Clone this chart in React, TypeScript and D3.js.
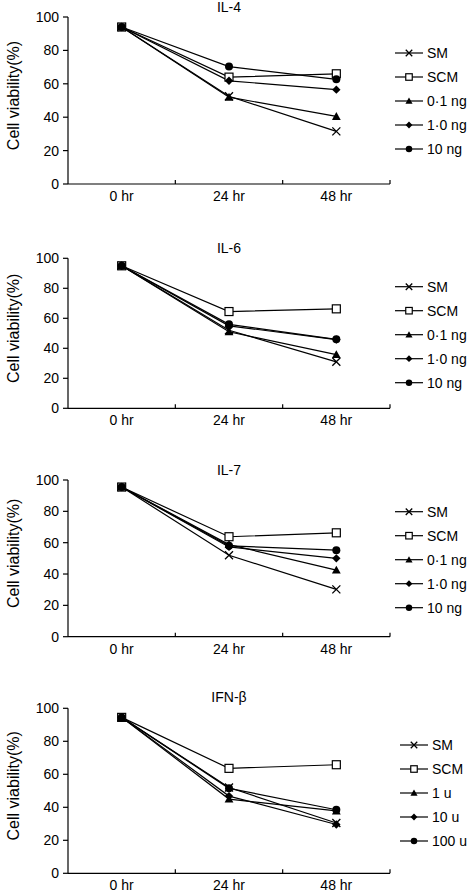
import React from "react";
import * as d3 from "d3";

const times = ["0 hr", "24 hr", "48 hr"];
const yTicks = [0, 20, 40, 60, 80, 100];
const markerKinds = ["x", "square", "triangle", "diamond", "circle"];

const titles = ["IL-4", "IL-6", "IL-7", "IFN-β"];
const ngLabels = ["SM", "SCM", "0·1 ng", "1·0 ng", "10 ng"];
const uLabels = ["SM", "SCM", "1 u", "10 u", "100 u"];

// IL-4
const il4SM = [94, 52.5, 31.5];
const il4SCM = [94, 64, 66];
const il4Ng01 = [94, 52, 40.5];
const il4Ng10 = [94, 61.8, 56.5];
const il4Ng100 = [94, 70.3, 62.7];
// IL-6
const il6SM = [95, 52, 31];
const il6SCM = [95, 64.5, 66.3];
const il6Ng01 = [95, 51, 35.8];
const il6Ng10 = [95, 55, 45.8];
const il6Ng100 = [95, 56, 46];
// IL-7
const il7SM = [95.5, 52, 30.2];
const il7SCM = [95.5, 63.8, 66.3];
const il7Ng01 = [95.5, 58.8, 42.5];
const il7Ng10 = [95.5, 57.3, 50];
const il7Ng100 = [95.5, 58, 55.2];
// IFN-beta
const ifnSM = [94.5, 52, 30.5];
const ifnSCM = [94.5, 63.6, 65.8];
const ifnU1 = [94.5, 45, 37.8];
const ifnU10 = [94.5, 46.8, 29.6];
const ifnU100 = [94.5, 51.5, 38.5];

const panelSeries = [
  [il4SM, il4SCM, il4Ng01, il4Ng10, il4Ng100],
  [il6SM, il6SCM, il6Ng01, il6Ng10, il6Ng100],
  [il7SM, il7SCM, il7Ng01, il7Ng10, il7Ng100],
  [ifnSM, ifnSCM, ifnU1, ifnU10, ifnU100],
];
const panelLegends = [ngLabels, ngLabels, ngLabels, uLabels];

// layout
const layout = [
  { top: 17, bottom: 184, legendTop: 53, legendX: 395, titleY: 12 },
  { top: 258.3, bottom: 408.3, legendTop: 286.7, legendX: 395, titleY: 252.5 },
  { top: 480, bottom: 636.7, legendTop: 511.7, legendX: 395, titleY: 474.5 },
  { top: 708.3, bottom: 873.3, legendTop: 745, legendX: 400, titleY: 702 },
];

const FONT = "Liberation Sans, Arial, Helvetica, sans-serif";
const X0 = 68;
const X1 = 390;

function Marker({ kind, x, y, s }: { kind: string; x: number; y: number; s: number }) {
  const h = s / 2;
  if (kind === "x") {
    return (
      <path
        d={`M${x - h},${y - h}L${x + h},${y + h}M${x - h},${y + h}L${x + h},${y - h}`}
        stroke="#000"
        strokeWidth={1.3}
        fill="none"
      />
    );
  }
  if (kind === "square") {
    return <rect x={x - h} y={y - h} width={s} height={s} fill="#fff" stroke="#000" strokeWidth={1.2} />;
  }
  if (kind === "triangle") {
    const t = h * 1.1;
    return <path d={`M${x},${y - t}L${x + t},${y + t * 0.8}L${x - t},${y + t * 0.8}Z`} fill="#000" />;
  }
  if (kind === "diamond") {
    const t = h * 1.05;
    return <path d={`M${x},${y - t}L${x + t},${y}L${x},${y + t}L${x - t},${y}Z`} fill="#000" />;
  }
  return <circle cx={x} cy={y} r={h} fill="#000" />;
}

function Panel({ idx }: { idx: number }) {
  const L = layout[idx];
  const series = panelSeries[idx];
  const labels = panelLegends[idx];
  const x = d3.scaleBand<string>().domain(times).range([X0, X1]);
  const y = d3.scaleLinear().domain([0, 100]).range([L.bottom, L.top]);
  const cx = (t: string) => (x(t) as number) + x.bandwidth() / 2;
  const line = d3
    .line<number>()
    .x((_, i) => cx(times[i]))
    .y((v) => y(v));
  const mid = (L.top + L.bottom) / 2;
  const boundaries = [X0, ...times.slice(1).map((t) => x(t) as number), X1];
  return (
    <g>
      <text x={229} y={L.titleY} textAnchor="middle" fontSize={14} fontFamily={FONT}>
        {titles[idx]}
      </text>
      <text
        transform={`translate(19,${mid - 5}) rotate(-90)`}
        textAnchor="middle"
        fontSize={16}
        fontFamily={FONT}
      >
        Cell viability(%)
      </text>
      {/* y axis */}
      <line x1={X0} x2={X0} y1={L.top} y2={L.bottom} stroke="#000" strokeWidth={1.2} />
      {yTicks.map((t) => (
        <g key={t}>
          <line x1={X0 - 5} x2={X0} y1={y(t)} y2={y(t)} stroke="#000" strokeWidth={1.2} />
          <text x={X0 - 9} y={y(t)} dy="0.36em" textAnchor="end" fontSize={14} fontFamily={FONT}>
            {t}
          </text>
        </g>
      ))}
      {/* x axis */}
      <line x1={X0} x2={X1} y1={L.bottom} y2={L.bottom} stroke="#000" strokeWidth={1.2} />
      {boundaries.slice(1).map((b, i) => (
        <line key={i} x1={b} x2={b} y1={L.bottom - 4} y2={L.bottom} stroke="#000" strokeWidth={1.2} />
      ))}
      {times.map((t) => (
        <text key={t} x={cx(t)} y={L.bottom + 17} textAnchor="middle" fontSize={14} fontFamily={FONT}>
          {t}
        </text>
      ))}
      {/* lines */}
      {series.map((s, i) => (
        <path key={i} d={line(s) || ""} fill="none" stroke="#000" strokeWidth={1.2} />
      ))}
      {series.map((s, i) =>
        s.map((v, j) => <Marker key={`${i}-${j}`} kind={markerKinds[i]} x={cx(times[j])} y={y(v)} s={8} />)
      )}
      {/* legend */}
      {labels.map((lab, i) => {
        const ly = L.legendTop + i * 24;
        return (
          <g key={lab}>
            <line x1={L.legendX} x2={L.legendX + 28} y1={ly} y2={ly} stroke="#000" strokeWidth={1.2} />
            <Marker kind={markerKinds[i]} x={L.legendX + 14} y={ly} s={6.5} />
            <text x={L.legendX + 32} y={ly} dy="0.36em" fontSize={14} fontFamily={FONT}>
              {lab}
            </text>
          </g>
        );
      })}
    </g>
  );
}

export default function App() {
  return (
    <svg width={468} height={892} style={{ position: "absolute", left: 0, top: 0, background: "#fff" }}>
      <rect width={468} height={892} fill="#fff" />
      {titles.map((_, i) => (
        <Panel key={i} idx={i} />
      ))}
    </svg>
  );
}
